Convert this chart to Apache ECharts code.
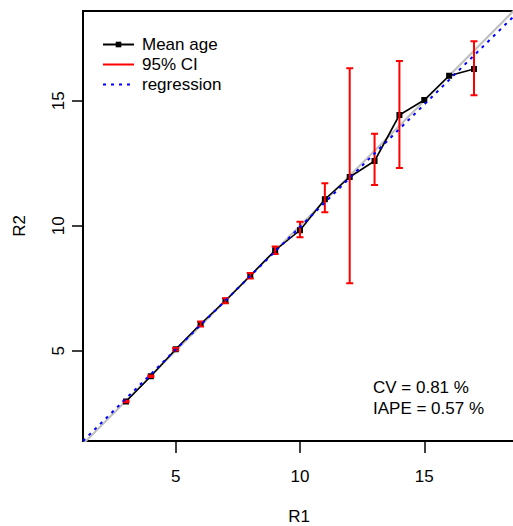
<!DOCTYPE html>
<html>
<head>
<meta charset="utf-8">
<script src="https://cdn.jsdelivr.net/npm/echarts@6/dist/echarts.min.js"></script>
<style>
html,body{margin:0;padding:0;background:#fff;}
#chart{width:513px;height:526px;}
</style>
</head>
<body>
<div id="chart"></div>
<script>
// ---- data ----
const ageX = [3, 4, 5, 6, 7, 8, 9, 10, 11, 12, 13, 14, 15, 16, 17];
const meanAge = [2.97, 3.98, 5.06, 6.07, 7.0, 8.0, 9.02, 9.82, 11.06, 11.95, 12.59, 14.43, 15.03, 16.0, 16.27];
const ciLow  = [2.94, 3.95, 5.01, 5.97, 6.9, 7.89, 8.87, 9.54, 10.54, 7.70, 11.63, 12.31, 15.03, 16.0, 15.22];
const ciHigh = [3.00, 4.01, 5.11, 6.17, 7.1, 8.11, 9.17, 10.16, 11.70, 16.30, 13.68, 16.59, 15.03, 16.0, 17.38];
const oneToOneX = [0, 20];
const oneToOneY = [0, 20];
const regressionX = [1.27, 18.65];
const regressionY = [1.39, 18.43];
const tickValues = [5, 10, 15];
const statLines = ['CV = 0.81 %', 'IAPE = 0.57 %'];
const legendNames = ['Mean age', '95% CI', 'regression'];

const FONT = 'Liberation Sans, Arial, Helvetica, sans-serif';
const FS = 17;

const chart = echarts.init(document.getElementById('chart'), null, {renderer: 'svg'});

const option = {
  animation: false,
  backgroundColor: '#ffffff',
  textStyle: {fontFamily: FONT},
  grid: {
    left: 83, right: -2, top: 11, bottom: 85,
    containLabel: false, outerBoundsMode: 'none',
    show: true, borderColor: '#000', borderWidth: 2, backgroundColor: 'transparent'
  },
  xAxis: {
    type: 'value', min: 1.27, max: 18.65,
    splitLine: {show: false},
    axisLine: {show: true, onZero: false, lineStyle: {color: '#000', width: 2}},
    axisTick: {show: true, customValues: tickValues, length: 12, lineStyle: {color: '#000', width: 1.5}},
    axisLabel: {customValues: tickValues, margin: 27, color: '#000', fontSize: FS, fontFamily: FONT},
    name: 'R1', nameLocation: 'middle', nameGap: 67,
    nameTextStyle: {color: '#000', fontSize: FS, fontFamily: FONT}
  },
  yAxis: {
    type: 'value', min: 1.39, max: 18.59,
    splitLine: {show: false},
    axisLine: {show: true, onZero: false, lineStyle: {color: '#000', width: 2}},
    axisTick: {show: true, customValues: tickValues, length: 11, lineStyle: {color: '#000', width: 1.5}},
    axisLabel: {customValues: tickValues, rotate: 90, margin: 16, color: '#000', fontSize: FS, fontFamily: FONT},
    name: 'R2', nameLocation: 'middle', nameGap: 55, nameRotate: 90,
    nameTextStyle: {color: '#000', fontSize: FS, fontFamily: FONT}
  },
  legend: {
    orient: 'vertical', left: 97, top: 31,
    itemWidth: 31, itemHeight: 7, itemGap: 3,
    data: [
      {name: legendNames[0]},
      {name: legendNames[1], itemStyle: {opacity: 0}},
      {name: legendNames[2], itemStyle: {opacity: 0}}
    ],
    textStyle: {color: '#000', fontSize: FS, fontFamily: FONT, padding: [0, 0, 0, 3]},
    selectedMode: false
  },
  graphic: statLines.map((t, i) => ({
    type: 'text', left: 373, top: 379 + i * 21,
    style: {text: t, fill: '#000', font: FS + 'px ' + FONT}
  })),
  series: [
    {
      name: '1:1', type: 'line', silent: true, symbol: 'none', clip: true,
      data: oneToOneX.map((x, i) => [x, oneToOneY[i]]),
      lineStyle: {color: '#bebebe', width: 2}, z: 1
    },
    {
      name: 'Mean age', type: 'line', symbol: 'rect', symbolSize: 6,
      data: ageX.map((x, i) => [x, meanAge[i]]),
      itemStyle: {color: '#000'}, lineStyle: {color: '#000', width: 1.6}, z: 2
    },
    {
      name: 'CI bars', type: 'custom', z: 3,
      data: ageX.map((x, i) => [x, ciLow[i], ciHigh[i]]),
      encode: {x: 0, y: [1, 2]},
      renderItem: function (params, api) {
        const x = api.value(0), lo = api.value(1), hi = api.value(2);
        if (hi - lo <= 0) return null;
        const pTop = api.coord([x, hi]);
        const pBot = api.coord([x, lo]);
        const hw = 3.5;
        const st = {stroke: '#ff0000', lineWidth: 2};
        return {
          type: 'group',
          children: [
            {type: 'line', shape: {x1: pTop[0], y1: pTop[1], x2: pBot[0], y2: pBot[1]}, style: st},
            {type: 'line', shape: {x1: pTop[0] - hw, y1: pTop[1], x2: pTop[0] + hw, y2: pTop[1]}, style: st},
            {type: 'line', shape: {x1: pBot[0] - hw, y1: pBot[1], x2: pBot[0] + hw, y2: pBot[1]}, style: st}
          ]
        };
      }
    },
    {
      name: '95% CI', type: 'line', symbol: 'none', data: [],
      lineStyle: {color: '#ff0000', width: 2}, itemStyle: {color: '#ff0000'}
    },
    {
      name: 'regression', type: 'line', symbol: 'none', clip: true, z: 4,
      data: regressionX.map((x, i) => [x, regressionY[i]]),
      lineStyle: {color: '#0000ff', width: 2, type: [3, 5]}, itemStyle: {color: '#0000ff'}
    }
  ]
};
chart.setOption(option);
</script>
</body>
</html>
